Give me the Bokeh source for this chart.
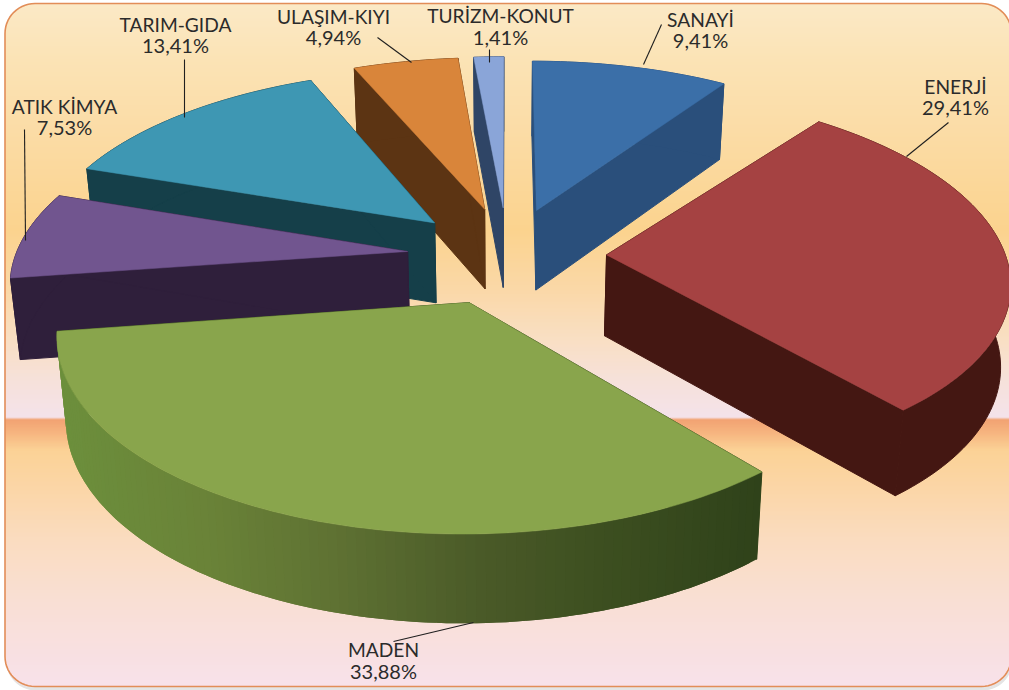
import math
from bokeh.plotting import figure
from bokeh.models import Range1d
from bokeh.core.properties import value
from bokeh.embed import file_html
from bokeh.resources import INLINE

# ---- data ----
names = ["SANAYİ", "ENERJİ", "MADEN", "ATIK KİMYA", "TARIM-GIDA", "ULAŞIM-KIYI", "TURİZM-KONUT"]
shares = [9.41, 29.41, 33.88, 7.53, 13.41, 4.94, 1.41]

# ---- slice styling ----
explode = [0.287, 0.26, 0.25, 0.24, 0.27, 0.29, 0.29]
rim_scale_start = [1.02, 1.045, 1.0, 1.0, 1.02, 1.04, 1.04]
rim_scale_end = [1.02, 0.995, 1.0, 1.0, 1.02, 1.04, 1.04]
start_pad_deg = [0, 4, 0, 0, 0, 0, 0]
nudge_x = [0, 0, 0, -4, 5, 6, 3]
nudge_y = [0, -1, 0, -3, -3, 0, 0]
top_colors = ["#3b6fa8", "#a54242", "#89a54c", "#71558f", "#3e97b3", "#d9853a", "#8aa5d8"]
side_colors = ["#2a4f7b", "#441712", "#33461b", "#2f1f3b", "#153f49", "#5c3413", "#2f4566"]
draw_order = [6, 5, 0, 4, 3, 1, 2]

# ---- label layout ----
label_x = [700, 955, 383, 64, 175, 333, 500]
name_y = [18.5, 85.5, 648.5, 105.5, 23.5, 15.5, 14.5]
share_y = [39.5, 106.5, 670.5, 126.5, 44.5, 36.5, 36.5]
leader_x0 = [661, 948, 393, 24, 184, 377, 489]
leader_y0 = [24, 122, 641, 129, 59, 37, 49]
leader_x1 = [643, 906, 473, 25, 184, 411, 489]
leader_y1 = [64, 156, 622, 240, 117, 62, 62]

# ---- backdrop style ----
bg_stops = [(3, "#fbe9c6"), (60, "#fbe3b5"), (130, "#fbdca6"), (230, "#fbd38e"), (290, "#fad8a8"),
            (340, "#f9dfc4"), (380, "#f6e1da"), (417, "#f4e2ea"), (419, "#f2a272"), (432, "#f6b47f"),
            (450, "#fbd296"), (490, "#fbd6a8"), (540, "#fadcc0"), (600, "#f9dfd4"), (686, "#f8e1ea")]
wall_stops = [(60, "#6c8f3c"), (200, "#6a8338"), (330, "#5f7233"), (480, "#4a5a28"), (600, "#3d4f20"), (760, "#2f421a")]
LEFT, TOP, RIGHT, BOTTOM, RADIUS = 4.5, 3.0, 1011.0, 686.0, 30.0

# ---- projection ----
CX, CY, SX, SY, K = 504.5, 258.0, 392.0, 182.0, 0.15
SHRINK, DEPTH, DEPTH_GROW = 0.98, 81.0, 1.03


def hex2rgb(h):
    return tuple(int(h[i:i + 2], 16) for i in (1, 3, 5))


def ramp(stops, t):
    if t <= stops[0][0]:
        return stops[0][1]
    for (a, ca), (b, cb) in zip(stops, stops[1:]):
        if t <= b:
            f = (t - a) / (b - a)
            ra, rb = hex2rgb(ca), hex2rgb(cb)
            return "#%02x%02x%02x" % tuple(round(u + (v - u) * f) for u, v in zip(ra, rb))
    return stops[-1][1]


def project(X, Y):
    w = 1 + K * Y
    return CX + SX * X / w, CY - SY * Y / w


def drop(pt):
    x, y = pt
    return CX + SHRINK * (x - CX), CY + DEPTH + DEPTH_GROW * (y - CY)


def round_rect(l, t, r, b, rad, n=14):
    pts = []
    for cx, cy, a0 in [(l + rad, t + rad, 180), (r - rad, t + rad, 270), (r - rad, b - rad, 0), (l + rad, b - rad, 90)]:
        for i in range(n + 1):
            a = math.radians(a0 + 90 * i / n)
            pts.append((cx + rad * math.cos(a), cy + rad * math.sin(a)))
    return [p[0] for p in pts], [p[1] for p in pts]


p = figure(width=1009, height=690, output_backend="svg", toolbar_location=None,
           x_range=Range1d(0, 1009), y_range=Range1d(690, 0),
           x_axis_type=None, y_axis_type=None, min_border=0, outline_line_color=None)
p.grid.visible = False
p.background_fill_color = "white"
p.border_fill_color = "white"

# shadow
sx, sy = round_rect(LEFT + 1, TOP + 4, RIGHT + 1, BOTTOM + 4, RADIUS)
p.patch(sx, sy, fill_color="#e4e4e4", line_color=None)

# backdrop as horizontal strips, clipped to the rounded frame
lefts, rights, tops, bots, cols = [], [], [], [], []
y = TOP
while y < BOTTOM:
    ym = y + 0.5
    inset = 0.0
    if ym < TOP + RADIUS:
        inset = RADIUS - math.sqrt(max(0, RADIUS ** 2 - (TOP + RADIUS - ym) ** 2))
    elif ym > BOTTOM - RADIUS:
        inset = RADIUS - math.sqrt(max(0, RADIUS ** 2 - (ym - BOTTOM + RADIUS) ** 2))
    lefts.append(LEFT + inset)
    rights.append(RIGHT - inset)
    tops.append(y)
    bots.append(min(y + 2, BOTTOM))
    cols.append(ramp(bg_stops, ym))
    y += 1
p.quad(left=lefts, right=rights, top=tops, bottom=bots, fill_color=cols, line_color=None)

# slices
total = sum(shares)
starts, acc = [], 0.0
for s in shares:
    starts.append(acc)
    acc += s

for i in draw_order:
    a0 = 2 * math.pi * starts[i] / total
    a1 = 2 * math.pi * (starts[i] + shares[i]) / total
    mid = (a0 + a1) / 2
    ox, oy = explode[i] * math.sin(mid), explode[i] * math.cos(mid)
    a_from = a0 + math.radians(start_pad_deg[i])
    n = max(6, int(shares[i] * 3))

    def place(q):
        return q[0] + nudge_x[i], q[1] + nudge_y[i]

    rim = []
    for j in range(n + 1):
        t = j / n
        a = a_from + (a1 - a_from) * t
        r = rim_scale_start[i] + (rim_scale_end[i] - rim_scale_start[i]) * t
        rim.append(place(project(ox + r * math.sin(a), oy + r * math.cos(a))))
    apex = place(project(ox, oy))
    rim_b = [drop(q) for q in rim]
    apex_b = drop(apex)
    side = side_colors[i]
    # radial faces
    for q, qb in ((rim[0], rim_b[0]), (rim[-1], rim_b[-1])):
        xs = [apex[0], q[0], qb[0], apex_b[0]]
        ys = [apex[1], q[1], qb[1], apex_b[1]]
        p.patch(xs, ys, fill_color=side, line_color=side, line_width=1)
    # outer wall
    if names[i] == "MADEN":
        # each band overlaps the next so no seams show
        for j in range(n):
            k = min(j + 2, n)
            xs = [q[0] for q in rim[j:k + 1]] + [q[0] for q in reversed(rim_b[j:k + 1])]
            ys = [q[1] for q in rim[j:k + 1]] + [q[1] for q in reversed(rim_b[j:k + 1])]
            c = ramp(wall_stops, (rim[j][0] + rim[j + 1][0]) / 2)
            p.patch(xs, ys, fill_color=c, line_color=None)
    else:
        xs = [q[0] for q in rim] + [q[0] for q in reversed(rim_b)]
        ys = [q[1] for q in rim] + [q[1] for q in reversed(rim_b)]
        p.patch(xs, ys, fill_color=side, line_color=side, line_width=1)
    # top
    xs = [apex[0]] + [q[0] for q in rim]
    ys = [apex[1]] + [q[1] for q in rim]
    p.patch(xs, ys, fill_color=top_colors[i], line_color=top_colors[i], line_width=0.5)

# frame
fx, fy = round_rect(LEFT, TOP, RIGHT, BOTTOM, RADIUS)
p.patch(fx, fy, fill_color=None, line_color="#e28d58", line_width=1.6)

# leaders and labels
p.segment(leader_x0, leader_y0, leader_x1, leader_y1, line_color="#1f1f1f", line_width=1.1)
share_text = [f"{v:.2f}".replace(".", ",") + "%" for v in shares]
p.text(label_x, name_y, text=names, text_font=value("Lato"), text_font_size="19.2px",
       text_color="#2b2b2b", text_align="center", text_baseline="middle")
p.text(label_x, share_y, text=share_text, text_font=value("Lato"), text_font_size="20px",
       text_color="#2b2b2b", text_align="center", text_baseline="middle")

open("out.html", "w").write(file_html(p, INLINE))
